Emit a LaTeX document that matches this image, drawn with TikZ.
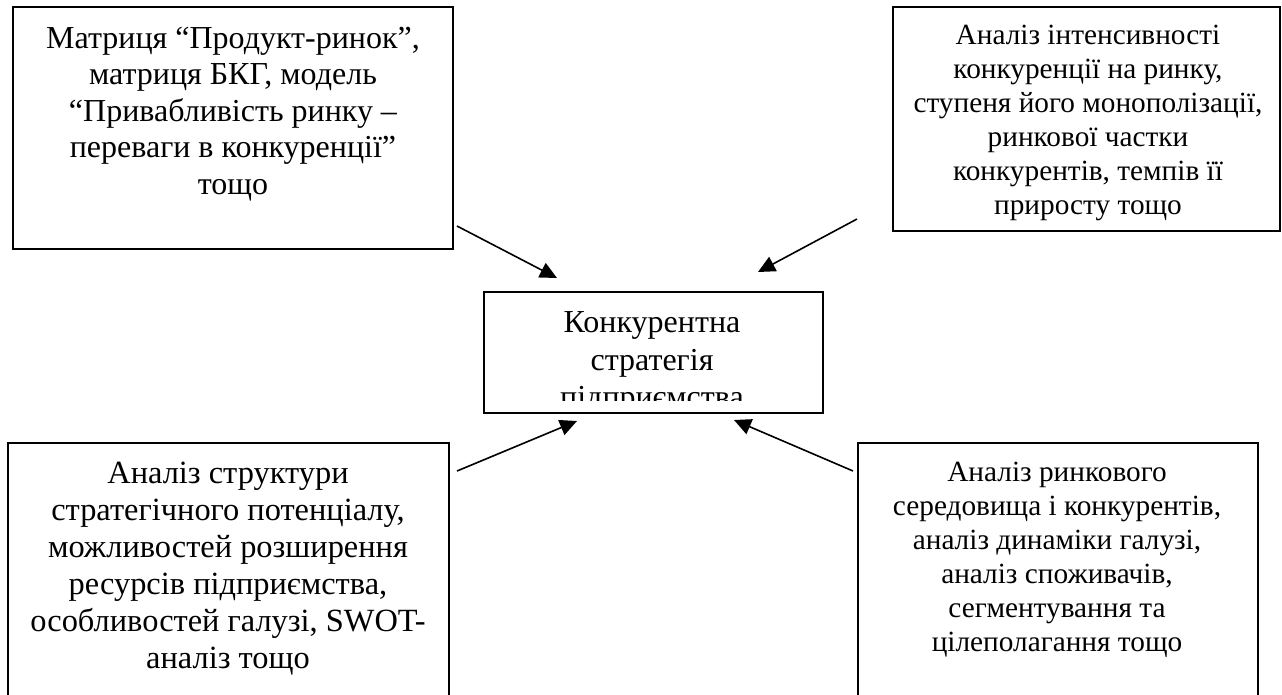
\documentclass[tikz,border=0pt]{standalone}
\usepackage{fontspec}
\setmainfont{Liberation Serif}
\usetikzlibrary{arrows.meta}
\tikzset{
  sc/.style={x=1pt,y=-1pt,line width=1.6pt},
  frame/.style={draw,line width=1.6pt,inner sep=0pt,anchor=north west},
  note/.style={align=center,inner sep=0pt,anchor=north},
  feed/.style={-{Triangle[length=17pt,width=16pt]},line width=1.6pt},
}

\begin{document}
\begin{tikzpicture}[sc]
  \clip (0,0) rectangle (1282,694);
  % four source boxes
  \node[frame,minimum width=440pt,minimum height=242pt] (mtx) at (12,6) {};
  \node[frame,minimum width=387pt,minimum height=224pt] (cmp) at (892,6) {};
  \node[frame,minimum width=441pt,minimum height=300pt] (pot) at (7,442) {};
  \node[frame,minimum width=400pt,minimum height=300pt] (mkt) at (857,442) {};
  \node[note,font=\fontsize{32}{36.5}\selectfont] (mtxtext) at (233,26)
    {Матриця “Продукт-ринок”,\\матриця БКГ, модель\\“Привабливість ринку –\\переваги в конкуренції”\\тощо};
  \node[note,font=\fontsize{29.3}{34}\selectfont] (cmptext) at (1088,24)
    {Аналіз інтенсивності\\конкуренції на ринку,\\ступеня його монополізації,\\ринкової частки\\конкурентів, темпів її\\приросту тощо};
  \node[note,font=\fontsize{32.4}{37}\selectfont] (pottext) at (228,461)
    {Аналіз структури\\стратегічного потенціалу,\\можливостей розширення\\ресурсів підприємства,\\особливостей галузі, SWOT-\\аналіз тощо};
  \node[note,font=\fontsize{29.3}{34}\selectfont] (mkttext) at (1057,461)
    {Аналіз ринкового\\середовища і конкурентів,\\аналіз динаміки галузі,\\аналіз споживачів,\\сегментування та\\цілеполагання тощо};
  % centre box, last line cut off
  \begin{scope}
    \clip (483,291) rectangle (822,400);
    \node[note,font=\fontsize{32}{37.5}\selectfont] (coretext) at (652,311)
      {Конкурентна\\стратегія\\підприємства};
  \end{scope}
  \node[frame,minimum width=339pt,minimum height=121pt] (core) at (483,291) {};
  % arrows
  \coordinate (mtxA) at (457,226); \coordinate (mtxB) at (557,278);
  \coordinate (cmpA) at (857,219); \coordinate (cmpB) at (758,272);
  \coordinate (potA) at (457,471); \coordinate (potB) at (577,421);
  \coordinate (mktA) at (853,471); \coordinate (mktB) at (734,420);
  \draw[feed] (mtxA) -- (mtxB);
  \draw[feed] (cmpA) -- (cmpB);
  \draw[feed] (potA) -- (potB);
  \draw[feed] (mktA) -- (mktB);
\end{tikzpicture}
\end{document}
